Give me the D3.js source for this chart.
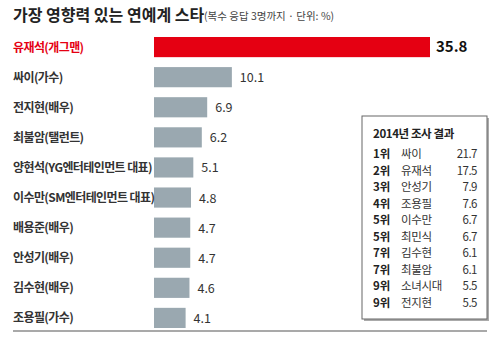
<!DOCTYPE html>
<html><head><meta charset="utf-8">
<script src="https://cdn.jsdelivr.net/npm/d3@7"></script>
<style>body{margin:0;background:#fff}svg{display:block}text{font-family:"Noto Sans CJK KR","Noto Sans",sans-serif}</style>
</head><body><svg id="c" width="500" height="347"></svg>
<script>
const names = ["유재석(개그맨)","싸이(가수)","전지현(배우)","최불암(탤런트)","양현석(YG엔터테인먼트 대표)","이수만(SM엔터테인먼트 대표)","배용준(배우)","안성기(배우)","김수현(배우)","조용필(가수)"];
const values = [35.8,10.1,6.9,6.2,5.1,4.8,4.7,4.7,4.6,4.1];
const ranks2014 = ["1위","2위","3위","4위","5위","5위","7위","7위","9위","9위"];
const names2014 = ["싸이","유재석","안성기","조용필","이수만","최민식","김수현","최불암","소녀시대","전지현"];
const values2014 = [21.7,17.5,7.9,7.6,6.7,6.7,6.1,6.1,5.5,5.5];

const svg = d3.select("#c");
svg.append("text").attr("x",13).attr("y",21).attr("font-size",16).attr("font-weight",700).attr("fill","#222").text("가장 영향력 있는 연예계 스타");
svg.append("text").attr("x",204).attr("y",20).attr("font-size",10.5).attr("fill","#444").text("(복수 응답 3명까지 · 단위: %)");

const x = d3.scaleLinear().domain([0,35.8]).range([154,430]);
const y = d3.scaleBand().domain(d3.range(names.length)).range([37,37+29.1*10]).paddingInner(0.33).paddingOuter(0);

const g = svg.append("g");
g.selectAll("rect.b").data(values).join("rect")
  .attr("x",x(0)).attr("y",(d,i)=>y(i)).attr("width",d=>x(d)-x(0)).attr("height",y.bandwidth())
  .attr("fill",(d,i)=>i===0?"#e50012":"#9aa8b0");
g.selectAll("text.n").data(names).join("text")
  .attr("x",13).attr("y",(d,i)=>y(i)+y.bandwidth()/2+4.5).attr("font-size",12).attr("font-weight",700)
  .attr("letter-spacing",-0.6)
  .attr("fill",(d,i)=>i===0?"#e50012":"#333").text(d=>d);
g.selectAll("text.v").data(values).join("text")
  .attr("x",(d,i)=>x(d)+(i===0?6:8)).attr("y",(d,i)=>y(i)+y.bandwidth()/2+5)
  .attr("font-size",(d,i)=>i===0?15:12.5).attr("font-weight",(d,i)=>i===0?700:400)
  .attr("fill",(d,i)=>i===0?"#111":"#333").text(d=>d.toFixed(1));

svg.append("line").attr("x1",13).attr("x2",487).attr("y1",331).attr("y2",331).attr("stroke","#555").attr("stroke-width",1.2);

// inset box
const bx=362, by=116, bw=125, bh=203;
svg.append("rect").attr("x",bx+2).attr("y",by+2).attr("width",bw).attr("height",bh).attr("fill","#aaa");
svg.append("rect").attr("x",bx).attr("y",by).attr("width",bw).attr("height",bh).attr("fill","#fff").attr("stroke","#666").attr("stroke-width",1);
svg.append("text").attr("x",373).attr("y",138).attr("font-size",11.5).attr("font-weight",700).attr("fill","#222").attr("letter-spacing",-0.4).text("2014년 조사 결과");
const ry = d3.scaleLinear().domain([0,9]).range([158,307]);
const tg = svg.append("g");
tg.selectAll("text.r").data(ranks2014).join("text").attr("x",373).attr("y",(d,i)=>ry(i)).attr("font-size",11.5).attr("font-weight",700).attr("fill","#222").text(d=>d);
tg.selectAll("text.nm").data(names2014).join("text").attr("x",401).attr("y",(d,i)=>ry(i)).attr("font-size",11.5).attr("fill","#333").attr("letter-spacing",-0.3).text(d=>d);
tg.selectAll("text.vl").data(values2014).join("text").attr("x",477).attr("y",(d,i)=>ry(i)).attr("text-anchor","end").attr("font-size",11.5).attr("fill","#333").attr("letter-spacing",-0.5).text(d=>d.toFixed(1));
</script></body></html>
